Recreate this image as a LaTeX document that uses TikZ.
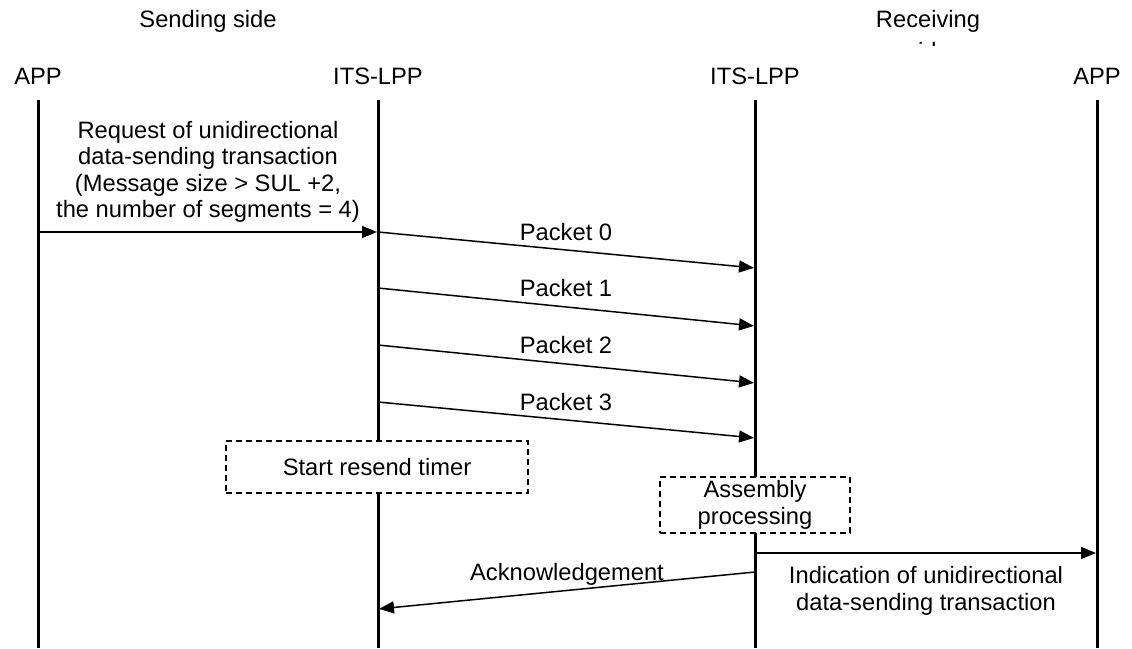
\documentclass[tikz,border=0pt]{standalone}
\usepackage{fontspec}
\setmainfont{Liberation Sans}
\usetikzlibrary{arrows.meta}
\begin{document}
\begin{tikzpicture}[x=1pt,y=-1pt,
  txt/.style={font=\fontsize{23.7}{26.5}\selectfont, inner sep=0pt, align=center},
  life/.style={line width=3pt},
  msg/.style={line width=1.5pt,-{Triangle[length=15pt,width=12pt]},shorten >=1pt},
  proc/.style={txt, draw, dash pattern=on 6pt off 4pt, line width=1.5pt, fill=white}
]
\useasboundingbox (0,0) rectangle (1132,648);
% headers
\node[txt, anchor=base] (send) at (208,27) {Sending side};
\node[txt, anchor=base] (recv) at (928,27) {Receiving};
\begin{scope}
  \clip (850,0) rectangle (1010,45);
  \node[txt, anchor=base] (recvside) at (928,59) {side};
\end{scope}
% lifeline heads
\node[txt, anchor=base] (hA1) at (38,84) {APP};
\node[txt, anchor=base] (hL1) at (378,84) {ITS-LPP};
\node[txt, anchor=base] (hL2) at (755,84) {ITS-LPP};
\node[txt, anchor=base] (hA2) at (1097,84) {APP};
% lifelines
\coordinate (A1t) at (38,100);   \coordinate (A1b) at (38,648);
\coordinate (L1t) at (378,100);  \coordinate (L1b) at (378,648);
\coordinate (L2t) at (755,100);  \coordinate (L2b) at (755,648);
\coordinate (A2t) at (1097,100); \coordinate (A2b) at (1097,648);
\draw[life] (A1t) -- (A1b);
\draw[life] (L1t) -- (L1b);
\draw[life] (L2t) -- (L2b);
\draw[life] (A2t) -- (A2b);
% request
\coordinate (r0) at (38,232); \coordinate (r1) at (378,232);
\draw[msg] (r0) -- (r1);
\node[txt] (reqlab) at (208,172) {Request of unidirectional\\data-sending transaction\\(Message size > SUL +2,\\the number of segments = 4)};
% packets
\coordinate (p0s) at (378,232); \coordinate (p0e) at (755,268);
\coordinate (p1s) at (378,288); \coordinate (p1e) at (755,326);
\coordinate (p2s) at (378,345); \coordinate (p2e) at (755,383);
\coordinate (p3s) at (378,402); \coordinate (p3e) at (755,438);
\draw[msg] (p0s) -- (p0e);
\draw[msg] (p1s) -- (p1e);
\draw[msg] (p2s) -- (p2e);
\draw[msg] (p3s) -- (p3e);
\node[txt, anchor=base] (pk0) at (566,240.5) {Packet 0};
\node[txt, anchor=base] (pk1) at (566,296.5) {Packet 1};
\node[txt, anchor=base] (pk2) at (566,353.5) {Packet 2};
\node[txt, anchor=base] (pk3) at (566,410.5) {Packet 3};
% process boxes
\node[proc, minimum width=302pt, minimum height=52pt] (timer) at (377,467) {Start resend timer};
\node[proc, minimum width=190pt, minimum height=56pt] (asm) at (755,505) {Assembly\\processing};
% indication
\coordinate (i0) at (755,553); \coordinate (i1) at (1097,553);
\draw[msg] (i0) -- (i1);
\node[txt] (indlab) at (926,591) {Indication of unidirectional\\data-sending transaction};
% acknowledgement
\coordinate (a0) at (755,572); \coordinate (a1) at (378,609);
\draw[msg] (a0) -- (a1);
\node[txt, anchor=base] (acklab) at (567,580) {Acknowledgement};
\end{tikzpicture}
\end{document}
